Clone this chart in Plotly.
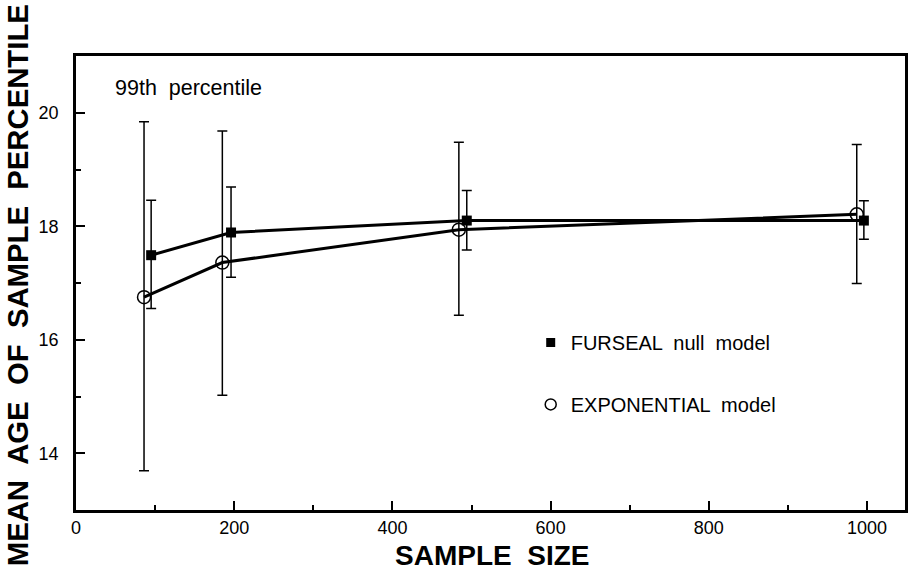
import plotly.graph_objects as go

# Data
furseal_n = [95, 196, 494, 996]
furseal_mean = [17.49, 17.89, 18.10, 18.10]
furseal_upper = [18.46, 18.69, 18.63, 18.45]
furseal_lower = [16.55, 17.10, 17.58, 17.77]

expo_n = [86, 185, 484, 987]
expo_mean = [16.75, 17.36, 17.94, 18.21]
expo_upper = [19.84, 19.68, 19.48, 19.44]
expo_lower = [13.69, 15.02, 16.43, 16.99]

x_ticks = [0, 200, 400, 600, 800, 1000]
y_ticks = [14, 16, 18, 20]

FONT = "Liberation Sans"

def err(mean, upper, lower):
    return dict(type="data", symmetric=False,
                array=[u - m for u, m in zip(upper, mean)],
                arrayminus=[m - l for m, l in zip(mean, lower)],
                color="black", thickness=1.5, width=5)

fig = go.Figure()
fig.add_trace(go.Scatter(
    x=expo_n, y=expo_mean, mode="lines+markers", showlegend=False,
    line=dict(color="black", width=3),
    marker=dict(symbol="circle-open", size=13, color="black", line=dict(width=1.5)),
    error_y=err(expo_mean, expo_upper, expo_lower)))
fig.add_trace(go.Scatter(
    x=furseal_n, y=furseal_mean, mode="lines+markers", showlegend=False,
    line=dict(color="black", width=3),
    marker=dict(symbol="square", size=10, color="black"),
    error_y=err(furseal_mean, furseal_upper, furseal_lower)))

# legend entries
fig.add_trace(go.Scatter(x=[None], y=[None], mode="markers", name="FURSEAL  null  model",
                         legendgroup="a",
                         marker=dict(symbol="square", size=9, color="black")))
fig.add_trace(go.Scatter(x=[None], y=[None], mode="markers", name="EXPONENTIAL  model",
                         legendgroup="b",
                         marker=dict(symbol="circle-open", size=11, color="black", line=dict(width=1.5))))

axis_common = dict(showline=True, linecolor="black", linewidth=2.5, mirror=True,
                   ticks="inside", tickcolor="black", tickwidth=2, ticklen=9,
                   showgrid=False, zeroline=False, automargin=False,
                   tickfont=dict(family=FONT, size=18, color="black"))

fig.update_xaxes(range=[0, 1048], tickvals=x_ticks, ticklabelstandoff=0,
                 minor=dict(tickvals=[100, 300, 500, 700, 900], ticks="inside",
                            ticklen=5, tickwidth=2, tickcolor="black"),
                 **axis_common)
fig.update_yaxes(range=[13, 21], tickvals=y_ticks, ticklabelstandoff=11,
                 minor=dict(tickvals=[15, 17, 19], ticks="inside",
                            ticklen=5, tickwidth=2, tickcolor="black"),
                 **axis_common)

# axis titles
fig.add_annotation(text="<b>SAMPLE  SIZE</b>", xref="paper", yref="paper",
                   x=0.502, y=-0.1, xanchor="center", yanchor="middle", showarrow=False,
                   borderpad=0, font=dict(family=FONT, size=28, color="black"))
fig.add_annotation(text="<b>MEAN  AGE  OF  SAMPLE  PERCENTILE</b>", xref="paper", yref="paper",
                   x=-0.0705, y=0.494, xanchor="center", yanchor="middle", showarrow=False,
                   borderpad=0, textangle=-90, font=dict(family=FONT, size=29.3, color="black"))

fig.add_annotation(text="99th  percentile", xref="paper", yref="paper",
                   x=0.045, y=0.93, xanchor="left", yanchor="middle", showarrow=False,
                   font=dict(family=FONT, size=21.5, color="black"))

fig.update_layout(
    width=908, height=570,
    margin=dict(l=76, r=3, t=56, b=60),
    paper_bgcolor="white", plot_bgcolor="white",
    showlegend=True,
    legend=dict(x=0.5485, y=0.412, xanchor="left", yanchor="top",
                font=dict(family=FONT, size=20, color="black"),
                tracegroupgap=33, bgcolor="rgba(0,0,0,0)", itemwidth=30),
)

fig.write_html("out.html", config={"displayModeBar": False},
               post_script="document.body.style.margin='0';")
